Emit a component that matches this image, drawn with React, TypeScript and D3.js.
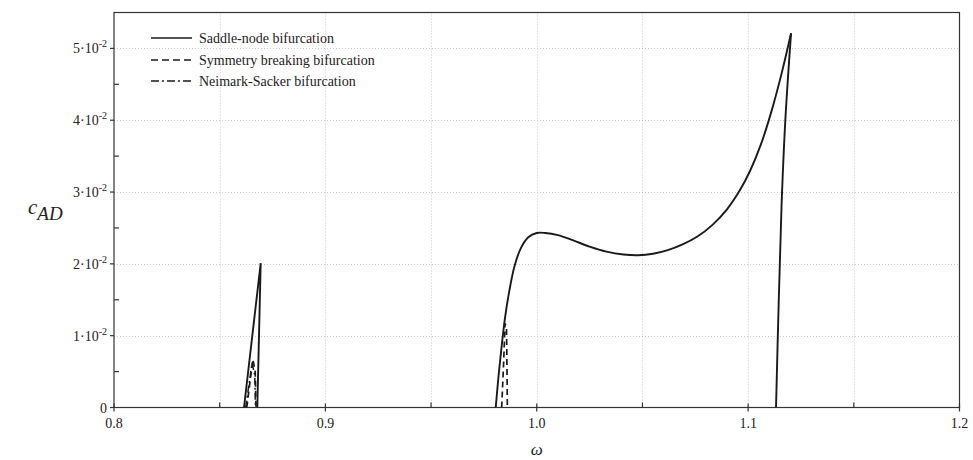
import React, { useEffect, useRef } from 'react';
import * as d3 from 'd3';

// saddle-node, main branch (rising, hump, cusp)
const snMainOmega = [0.9806, 0.9818, 0.9832, 0.985, 0.987, 0.9895, 0.9925, 0.996, 1.0, 1.004, 1.01, 1.017, 1.025, 1.033, 1.041, 1.048, 1.055, 1.062, 1.069, 1.076, 1.083, 1.09, 1.096, 1.101, 1.106, 1.111, 1.116, 1.1203];
const snMainC = [0, 0.004, 0.008, 0.0125, 0.0162, 0.0197, 0.0222, 0.0237, 0.0243, 0.0243, 0.0240, 0.0233, 0.0224, 0.0217, 0.0213, 0.0212, 0.0214, 0.0219, 0.0227, 0.0238, 0.0254, 0.0276, 0.0302, 0.033, 0.0366, 0.0412, 0.0467, 0.0521];
// saddle-node, return branch from the cusp
const snReturnOmega = [1.1203, 1.1176, 1.1158, 1.1145, 1.1132];
const snReturnC = [0.0521, 0.04, 0.028, 0.015, 0];
// saddle-node, left tongue
const snLeftOmega = [0.8615, 0.8694, 0.8678];
const snLeftC = [0, 0.0201, 0];
// symmetry breaking
const sbLeftOmega = [0.8628, 0.8657, 0.8668, 0.8672];
const sbLeftC = [0, 0.0067, 0.005, 0];
const sbMidOmega = [0.9834, 0.9843, 0.985, 0.9857, 0.9861];
const sbMidC = [0, 0.006, 0.0117, 0.0112, 0];
// Neimark-Sacker
const nsOmega = [0.8623, 0.8653, 0.8666, 0.8669];
const nsC = [0, 0.0062, 0.0045, 0];

const xTicks = [0.8, 0.9, 1.0, 1.1, 1.2];
const xTickLabels = ['0.8', '0.9', '1.0', '1.1', '1.2'];
const yTicks = [0.01, 0.02, 0.03, 0.04, 0.05];
const yTickMantissa = ['1', '2', '3', '4', '5'];
const legendLabels = ['Saddle-node bifurcation', 'Symmetry breaking bifurcation', 'Neimark-Sacker bifurcation'];

const W = 973;
const H = 460;

export default function App() {
  const ref = useRef<SVGSVGElement | null>(null);

  useEffect(() => {
    document.body.style.margin = '0';
    const svg = d3.select(ref.current);
    svg.selectAll('*').remove();

    const left = 114, right = 959.5, top = 12.5, bottom = 407.5;
    const x = d3.scaleLinear().domain([0.8, 1.2]).range([left, right]);
    const y = d3.scaleLinear().domain([0, 0.055]).range([bottom, top]);
    const font = '"Liberation Serif", "Times New Roman", serif';

    // grid
    const grid = svg.append('g').attr('stroke', '#c8c8c8').attr('stroke-width', 1).attr('stroke-dasharray', '1,2');
    d3.range(0.85, 1.2, 0.05).forEach(v => {
      grid.append('line').attr('x1', Math.round(x(v)) + 0.5).attr('x2', Math.round(x(v)) + 0.5).attr('y1', top).attr('y2', bottom);
    });
    yTicks.forEach(v => {
      grid.append('line').attr('x1', left).attr('x2', right).attr('y1', Math.round(y(v)) + 0.5).attr('y2', Math.round(y(v)) + 0.5);
    });

    // frame
    svg.append('rect').attr('x', left).attr('y', top).attr('width', right - left).attr('height', bottom - top)
      .attr('fill', 'none').attr('stroke', '#333').attr('stroke-width', 1.2);

    // ticks
    const tk = svg.append('g').attr('stroke', '#333').attr('stroke-width', 1.2);
    xTicks.forEach(v => {
      tk.append('line').attr('x1', x(v)).attr('x2', x(v)).attr('y1', bottom - 4).attr('y2', bottom + 4);
    });
    d3.range(0.85, 1.2, 0.1).forEach(v => {
      tk.append('line').attr('x1', x(v)).attr('x2', x(v)).attr('y1', bottom - 5).attr('y2', bottom);
    });
    [0, ...yTicks].forEach(v => {
      tk.append('line').attr('x1', left - 4).attr('x2', left).attr('y1', y(v)).attr('y2', y(v));
    });
    d3.range(0.005, 0.055, 0.01).forEach(v => {
      tk.append('line').attr('x1', left).attr('x2', left + 5).attr('y1', y(v)).attr('y2', y(v));
    });

    // tick labels
    xTicks.forEach((v, i) => {
      svg.append('text').attr('x', x(v)).attr('y', bottom + 20).attr('text-anchor', 'middle')
        .attr('font-family', font).attr('font-size', 14).attr('fill', '#222').text(xTickLabels[i]);
    });
    svg.append('text').attr('x', left - 7).attr('y', y(0) + 5).attr('text-anchor', 'end')
      .attr('font-family', font).attr('font-size', 14).attr('fill', '#222').text('0');
    yTicks.forEach((v, i) => {
      const t = svg.append('text').attr('x', left - 7).attr('y', y(v) + 5).attr('text-anchor', 'end')
        .attr('font-family', font).attr('font-size', 14).attr('fill', '#222');
      t.append('tspan').text(`${yTickMantissa[i]}·10`);
      t.append('tspan').attr('dy', -6).attr('font-size', 10).text('-2');
    });

    // axis titles
    svg.append('text').attr('x', x(1.0)).attr('y', 455).attr('text-anchor', 'middle')
      .attr('font-family', font).attr('font-style', 'italic').attr('font-size', 17).attr('fill', '#222').text('ω');
    const yl = svg.append('text').attr('x', 28).attr('y', 214)
      .attr('font-family', font).attr('font-style', 'italic').attr('font-size', 21).attr('fill', '#222');
    yl.append('tspan').text('c');
    yl.append('tspan').attr('dy', 6).attr('font-size', 19).text('AD');

    // curves
    const line = d3.line<[number, number]>().x(d => x(d[0])).y(d => y(d[1]));
    const smooth = d3.line<[number, number]>().x(d => x(d[0])).y(d => y(d[1])).curve(d3.curveCatmullRom.alpha(0.5));
    const pts = (o: number[], c: number[]) => o.map((v, i) => [v, c[i]] as [number, number]);
    const stroke = '#1a1a1a';

    const draw = (d: string | null, dash: string | null, w: number) => {
      svg.append('path').attr('d', d).attr('fill', 'none').attr('stroke', stroke)
        .attr('stroke-width', w).attr('stroke-dasharray', dash);
    };
    draw(smooth(pts(snMainOmega, snMainC)), null, 1.9);
    draw(smooth(pts(snReturnOmega, snReturnC)), null, 1.9);
    draw(line(pts(snLeftOmega, snLeftC)), null, 1.9);
    draw(line(pts(sbLeftOmega, sbLeftC)), '6,4', 1.7);
    draw(line(pts(sbMidOmega, sbMidC)), '6,4', 1.7);
    draw(line(pts(nsOmega, nsC)), '7,3,2,3', 1.5);

    // legend
    const legY = [38, 60, 81];
    const dashes = [null, '7,4', '8,3,2,3'];
    legendLabels.forEach((lab, i) => {
      svg.append('line').attr('x1', 151).attr('x2', 192).attr('y1', legY[i]).attr('y2', legY[i])
        .attr('stroke', stroke).attr('stroke-width', 1.5).attr('stroke-dasharray', dashes[i]);
      svg.append('text').attr('x', 199).attr('y', legY[i] + 4.5)
        .attr('font-family', font).attr('font-size', 14).attr('fill', '#222').text(lab);
    });
  }, []);

  return <svg ref={ref} width={W} height={H} style={{ display: 'block', background: '#fff' }} />;
}
